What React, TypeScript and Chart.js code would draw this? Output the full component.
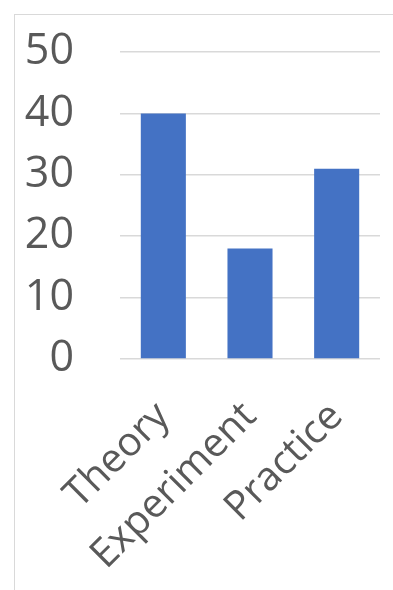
import React, { useEffect, useRef } from "react";
import { Chart, registerables } from "chart.js";

Chart.register(...registerables);

const categories = ["Theory", "Experiment", "Practice"];
const values = [40, 18, 31];
const yTicks = [0, 10, 20, 30, 40, 50];

export default function App() {
  const ref = useRef<HTMLCanvasElement | null>(null);

  useEffect(() => {
    if (!ref.current) return;
    const chart = new Chart(ref.current, {
      type: "bar",
      data: {
        labels: categories,
        datasets: [
          {
            data: values,
            backgroundColor: "#4472C4",
            borderWidth: 0,
            barPercentage: 0.52,
            categoryPercentage: 1,
          },
        ],
      },
      options: {
        animation: false,
        responsive: false,
        maintainAspectRatio: false,
        layout: { padding: { left: 0, right: 13, top: 52, bottom: 0 } },
        plugins: { legend: { display: false }, tooltip: { enabled: false } },
        scales: {
          x: {
            grid: { display: false, drawTicks: false },
            border: { display: false },
            ticks: {
              minRotation: 45,
              maxRotation: 45,
              padding: 34,
              color: "#595959",
              font: { family: "'Open Sans'", size: 40 },
            },
            afterFit: (s: any) => {
              s.height = 231;
              s.paddingLeft = 0;
              s.paddingRight = 0;
              s.paddingTop = 0;
              s.paddingBottom = 0;
            },
          },
          y: {
            min: 0,
            max: 50,
            afterBuildTicks: (s: any) => {
              s.ticks = yTicks.map((v) => ({ value: v }));
            },
            grid: { color: "#d9d9d9", lineWidth: 1.5, drawTicks: false },
            border: { display: false },
            ticks: {
              padding: 46,
              color: "#595959",
              font: { family: "'Open Sans'", size: 43 },
            },
            afterFit: (s: any) => {
              s.width = 120;
              s.paddingLeft = 0;
              s.paddingRight = 0;
              s.paddingTop = 0;
              s.paddingBottom = 0;
            },
          },
        },
      },
    });
    return () => chart.destroy();
  }, []);

  return (
    <div
      style={{
        position: "fixed",
        left: 0,
        top: 0,
        width: 393,
        height: 590,
        overflow: "hidden",
        background: "#fff",
      }}
    >
      <div
        style={{
          position: "absolute",
          left: 14,
          top: 14,
          width: 420,
          height: 620,
          border: "1.5px solid #d9d9d9",
          boxSizing: "border-box",
        }}
      />
      <canvas
        ref={ref}
        width={393}
        height={590}
        style={{ position: "absolute", left: 0, top: 0, width: 393, height: 590 }}
      />
    </div>
  );
}
